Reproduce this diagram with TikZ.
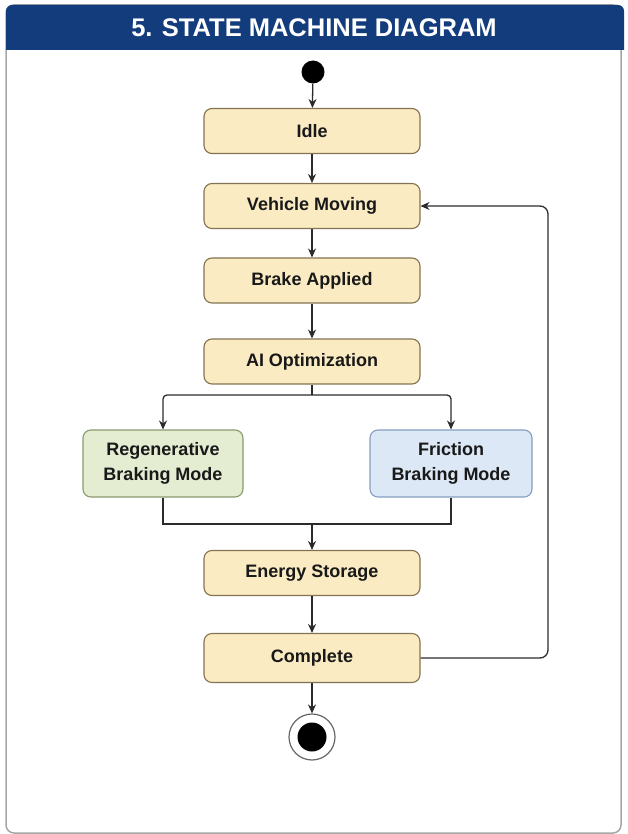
\documentclass[tikz,border=0pt]{standalone}
\usepackage{fontspec}
\setmainfont{Liberation Sans}
\usetikzlibrary{arrows.meta}
\definecolor{navy}{HTML}{133C7C}
\definecolor{stfill}{HTML}{FAEBC2}
\definecolor{stdraw}{HTML}{837352}
\definecolor{gfill}{HTML}{E4ECD2}
\definecolor{gdraw}{HTML}{8A9A6E}
\definecolor{bfill}{HTML}{DDE8F6}
\definecolor{bdraw}{HTML}{859EC0}
\definecolor{ln}{HTML}{2B2B2B}
\begin{document}
\begin{tikzpicture}[x=1pt,y=-1pt,
 state/.style={draw=stdraw,fill=stfill,line width=1.1pt,rounded corners=8pt,minimum width=216pt,minimum height=45pt,inner sep=0pt,font=\fontsize{18}{25}\selectfont\bfseries,text=black!90,align=center},
 gstate/.style={state,draw=gdraw,fill=gfill,minimum width=160pt,minimum height=67pt},
 bstate/.style={state,draw=bdraw,fill=bfill,minimum width=162pt,minimum height=67pt},
 conn/.style={draw=ln,line width=1.3pt,-{Stealth[length=9pt,width=8pt]}},
 plain/.style={draw=ln,line width=1.3pt}]
\useasboundingbox (0,0) rectangle (627,834);
% frame and title
\draw[gray!70,line width=1.5pt,rounded corners=8pt] (6,5) rectangle (621,833);
\fill[navy] (6,50) [rounded corners=6pt] -- (6,5) -- (624,5) [sharp corners] -- (624,50) -- cycle;
\node[text=white,font=\fontsize{25.5}{28}\selectfont\bfseries] (title) at (314,28) {5. STATE MACHINE DIAGRAM};
% states
\node[circle,fill=black,minimum size=23pt,inner sep=0pt] (init) at (313,72) {};
\node[state] (idle) at (312,131) {Idle};
\node[state] (moving) at (312,206) {Vehicle Moving};
\node[state] (brake) at (312,280.5) {Brake Applied};
\node[state] (ai) at (312,361.5) {AI Optimization};
\node[gstate] (regen) at (163,463.5) {Regenerative\\Braking Mode};
\node[bstate] (fric) at (451,463.5) {Friction\\Braking Mode};
\node[state] (energy) at (312,573) {Energy Storage};
\node[state,minimum height=49pt] (complete) at (312,658) {Complete};
\node[circle,draw=gray!80!black,fill=white,line width=1.2pt,minimum size=46pt,inner sep=0pt] (final) at (312,737) {};
\node[circle,fill=black,minimum size=29pt,inner sep=0pt] (finalin) at (final) {};
% helper coordinates
\coordinate (split) at (312,395);
\coordinate (merge) at (312,524);
\coordinate (loopB) at (548,658);
\coordinate (loopT) at (548,206);
% connectors
\draw[conn] (init) -- (idle);
\draw[conn] (idle) -- (moving);
\draw[conn] (moving) -- (brake);
\draw[conn] (brake) -- (ai);
\draw[plain] (ai) -- (split);
\draw[conn,rounded corners=4pt] (split) -| (regen);
\draw[conn,rounded corners=4pt] (split) -| (fric);
\draw[plain] (regen) |- (merge);
\draw[plain] (fric) |- (merge);
\draw[conn] (merge) -- (energy);
\draw[conn] (energy) -- (complete);
\draw[conn] (complete) -- (final);
\draw[conn,rounded corners=8pt] (complete.east) -- (loopB) -- (loopT) -- (moving.east);
\end{tikzpicture}
\end{document}
